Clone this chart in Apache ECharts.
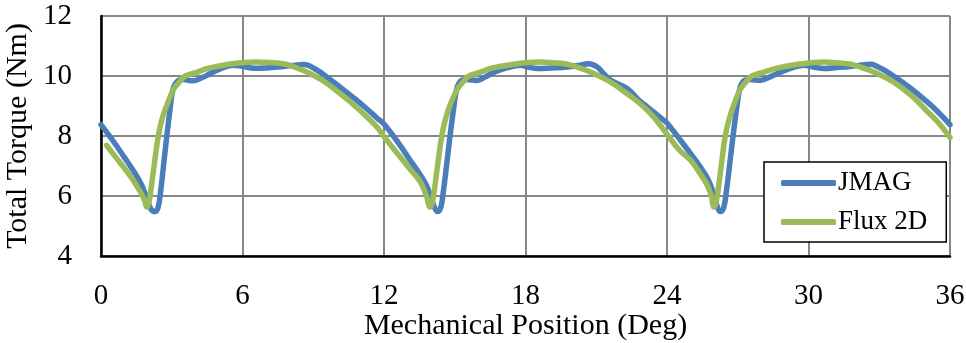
<!DOCTYPE html>
<html>
<head>
<meta charset="utf-8">
<script src="https://cdn.jsdelivr.net/npm/echarts@6/dist/echarts.min.js"></script>
<style>
  html, body { margin: 0; padding: 0; background: #ffffff; }
  #chart { width: 966px; height: 343px; }
</style>
</head>
<body>
<div id="chart"></div>
<script>
// Total torque against mechanical position, two solvers.
const seriesNames = ['JMAG', 'Flux 2D'];
const xTicks = [0, 6, 12, 18, 24, 30, 36];
const yTicks = [4, 6, 8, 10, 12];

// JMAG: mechanical position (deg) and torque (Nm)
const jmagPos = [
  0, 0.5, 1.0, 1.44, 1.73, 1.95, 2.12, 2.29, 2.42, 2.52, 2.65, 2.79, 2.93, 3.05, 3.25, 3.5, 3.9, 4.3, 4.63, 5.1,
  5.6, 6.0, 6.5, 7.0, 7.5, 8.1, 8.6, 9.15, 9.6, 10.14, 10.7, 11.28, 11.7, 12.0,
  12.69, 13.1, 13.54, 13.8, 13.96, 14.15, 14.27, 14.4, 14.5, 14.65, 14.8, 14.95, 15.08, 15.25, 15.5, 15.95,
  16.3, 16.65, 17.2, 17.78, 18.1, 18.49, 19.1, 19.77, 20.3, 20.68, 21.04, 21.35, 21.6, 22.31, 22.8, 23.16, 23.87, 24.0,
  24.58, 25.0, 25.4, 25.71, 25.99, 26.15, 26.27, 26.4, 26.5, 26.65, 26.8, 26.95, 27.08, 27.25, 27.5, 27.97,
  28.4, 28.82, 29.3, 29.81, 30.2, 30.66, 31.2, 31.79, 32.3, 32.64, 33.0, 33.35, 34.0, 34.62, 35.3, 36.0
];
const jmagTorque = [
  8.38, 7.85, 7.28, 6.76, 6.35, 5.9, 5.56, 5.48, 5.62, 6.1, 7.0, 8.0, 8.9, 9.55, 9.83, 9.88, 9.84, 9.95, 10.08, 10.25,
  10.36, 10.32, 10.26, 10.27, 10.3, 10.35, 10.38, 10.2, 9.95, 9.63, 9.28, 8.9, 8.6, 8.4,
  7.68, 7.2, 6.7, 6.35, 6.03, 5.6, 5.48, 5.6, 6.05, 7.0, 8.0, 8.9, 9.55, 9.83, 9.88, 9.85,
  9.97, 10.12, 10.27, 10.36, 10.3, 10.25, 10.27, 10.3, 10.36, 10.41, 10.3, 10.05, 9.86, 9.58, 9.2, 8.97, 8.52, 8.43,
  7.85, 7.41, 6.98, 6.6, 6.05, 5.6, 5.48, 5.6, 6.05, 7.0, 8.0, 8.9, 9.55, 9.83, 9.88, 9.86,
  9.98, 10.13, 10.27, 10.36, 10.3, 10.25, 10.28, 10.32, 10.37, 10.39, 10.28, 10.13, 9.78, 9.41, 8.95, 8.38
];

// Flux 2D: mechanical position (deg) and torque (Nm)
const fluxPos = [
  0.24, 0.6, 0.95, 1.3, 1.66, 1.85, 1.94, 2.0, 2.08, 2.25, 2.43, 2.6, 2.79, 3.07, 3.3, 3.57, 4.06, 4.5, 5.19, 5.9,
  6.6, 7.2, 7.74, 8.2, 8.73, 9.4, 10.14, 10.7, 11.28, 11.7, 12.0,
  12.69, 13.1, 13.54, 13.8, 13.96, 14.02, 14.1, 14.27, 14.45, 14.62, 14.81, 15.1, 15.35, 15.6, 16.09, 16.6, 17.5, 18.0,
  18.63, 19.2, 19.77, 20.3, 20.9, 21.6, 22.31, 22.9, 23.44, 24.0,
  24.5, 25.0, 25.4, 25.71, 25.88, 25.99, 26.05, 26.13, 26.3, 26.47, 26.65, 26.84, 27.1, 27.35, 27.6, 28.11, 28.7, 29.53, 30.1,
  30.66, 31.2, 31.79, 32.3, 32.92, 33.6, 34.34, 35.0, 35.5, 36.0
];
const fluxTorque = [
  7.69, 7.32, 6.97, 6.6, 6.15, 5.85, 5.63, 5.7, 6.0, 7.0, 8.0, 8.6, 9.02, 9.55, 9.78, 10.0, 10.12, 10.25, 10.36, 10.44,
  10.47, 10.45, 10.41, 10.3, 10.13, 9.85, 9.41, 9.05, 8.63, 8.3, 7.98,
  7.3, 6.9, 6.47, 6.0, 5.63, 5.7, 6.0, 7.0, 8.0, 8.6, 9.05, 9.55, 9.8, 10.0, 10.13, 10.27, 10.39, 10.44,
  10.47, 10.44, 10.39, 10.27, 10.08, 9.8, 9.41, 9.05, 8.63, 8.06,
  7.55, 7.19, 6.75, 6.36, 6.0, 5.63, 5.7, 6.0, 7.0, 8.0, 8.6, 9.05, 9.55, 9.8, 10.0, 10.13, 10.27, 10.39, 10.44,
  10.47, 10.44, 10.39, 10.27, 10.08, 9.8, 9.36, 8.85, 8.45, 7.95
];

const pair = (xs, ys) => xs.map((x, i) => [x, ys[i]]);

const FONT = 'Liberation Serif, Times New Roman, serif';
const GRID_GRAY = '#878787';

const chart = echarts.init(document.getElementById('chart'), null, { renderer: 'canvas' });

chart.setOption({
  animation: false,
  backgroundColor: '#ffffff',
  textStyle: { fontFamily: FONT, color: '#000' },
  grid: { left: 101, right: 16, top: 16, bottom: 87, containLabel: false, outerBoundsMode: 'none' },
  legend: {
    data: seriesNames,
    orient: 'vertical',
    left: 764,
    top: 162,
    padding: [6, 19, 5, 17],
    itemGap: 9,
    itemWidth: 55,
    itemHeight: 6,
    icon: 'roundRect',
    borderColor: '#000',
    borderWidth: 1.5,
    backgroundColor: '#ffffff',
    textStyle: { fontFamily: FONT, fontSize: 27, lineHeight: 30, color: '#000', padding: [0, 0, 0, -3] }
  },
  xAxis: {
    type: 'value',
    min: xTicks[0],
    max: xTicks[xTicks.length - 1],
    interval: 6,
    name: 'Mechanical Position (Deg)',
    nameLocation: 'middle',
    nameGap: 55,
    nameMoveOverlap: false,
    nameTextStyle: { fontFamily: FONT, fontSize: 30, color: '#000', lineHeight: 30 },
    axisLine: { show: true, onZero: false, lineStyle: { color: '#000', width: 2.5 } },
    axisTick: { show: false },
    axisLabel: { fontFamily: FONT, fontSize: 29, color: '#000', margin: 26 },
    splitLine: { show: true, lineStyle: { color: GRID_GRAY, width: 2 } }
  },
  yAxis: {
    type: 'value',
    min: yTicks[0],
    max: yTicks[yTicks.length - 1],
    interval: 2,
    name: 'Total Torque (Nm)',
    nameLocation: 'middle',
    nameGap: 68,
    nameMoveOverlap: false,
    nameTextStyle: { fontFamily: FONT, fontSize: 30, color: '#000' },
    axisLine: { show: true, onZero: false, lineStyle: { color: '#000', width: 2.5 } },
    axisTick: { show: false },
    axisLabel: { fontFamily: FONT, fontSize: 29, color: '#000', margin: 29 },
    splitLine: { show: true, lineStyle: { color: GRID_GRAY, width: 2 } }
  },
  series: [
    {
      name: seriesNames[0],
      type: 'line',
      data: pair(jmagPos, jmagTorque),
      showSymbol: false,
      symbol: 'none',
      smooth: 0.4,
      itemStyle: { color: '#4a7ebb' },
      lineStyle: { color: '#4a7ebb', width: 5.5, cap: 'round', join: 'round' },
      z: 3
    },
    {
      name: seriesNames[1],
      type: 'line',
      data: pair(fluxPos, fluxTorque),
      showSymbol: false,
      symbol: 'none',
      smooth: 0.4,
      itemStyle: { color: '#9bbb59' },
      lineStyle: { color: '#9bbb59', width: 5.5, cap: 'round', join: 'round' },
      z: 4
    }
  ]
});
</script>
</body>
</html>
